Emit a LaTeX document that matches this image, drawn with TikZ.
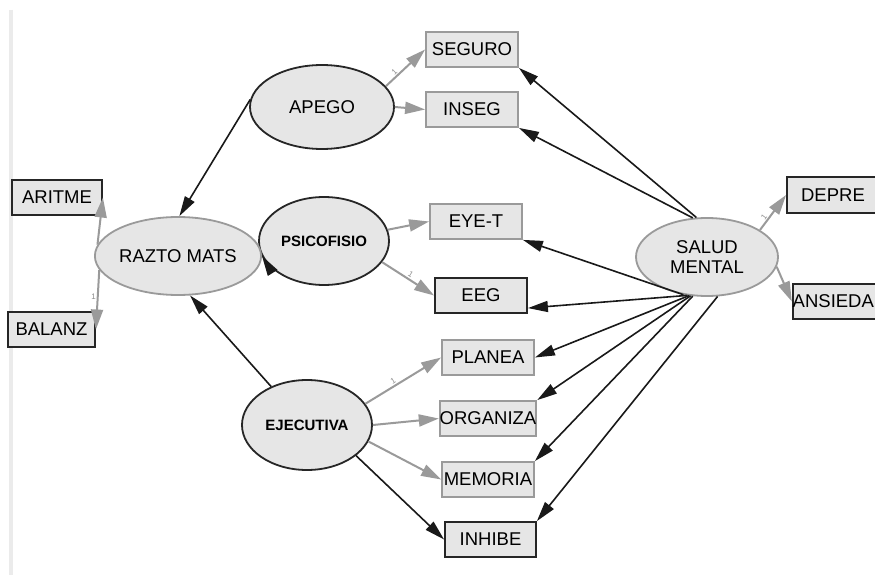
\documentclass[tikz,border=0pt]{standalone}
\usepackage{fontspec}
\setmainfont{Liberation Sans}
\usetikzlibrary{arrows.meta,shapes.geometric}
\definecolor{semgray}{HTML}{9A9A9A}
\definecolor{semfill}{HTML}{E6E6E6}
\begin{document}
\begin{tikzpicture}[x=1pt,y=-1pt,
  obsbox/.style={draw=semgray,line width=1.8pt,fill=semfill,minimum width=92pt,
    minimum height=35pt,inner sep=0pt,font=\fontsize{18.5}{20}\selectfont},
  obsdark/.style={obsbox,draw=black!85},
  latent/.style={ellipse,draw=black!85,line width=1.8pt,fill=semfill,inner sep=0pt,
    align=center,font=\fontsize{18.5}{20.5}\selectfont},
  latgray/.style={latent,draw=semgray},
  latsmall/.style={font=\fontsize{15}{16}\selectfont\bfseries},
  regr/.style={draw=black!90,line width=1.6pt,-{Triangle[length=20pt,width=11pt]}},
  load/.style={draw=semgray,line width=2pt,-{Triangle[length=20pt,width=12pt]}},
  fixone/.style={font=\fontsize{8}{8}\selectfont,text=black!45,inner sep=1pt}]
% sem path diagram, pixel coordinates
\useasboundingbox (0,0) rectangle (875,575);
\clip (0,0) rectangle (875,575);
\fill[white] (0,0) rectangle (875,575);
\draw[black!8,line width=4pt] (11,10) -- (11,575);
% latent variables
\node[latent,minimum width=144pt,minimum height=84pt] (apego) at (322,107) {APEGO};
\node[latent,latsmall,minimum width=130pt,minimum height=88pt] (psico) at (324,241) {PSICOFISIO};
\node[latent,latsmall,minimum width=130pt,minimum height=90pt] (ejec) at (307,425) {EJECUTIVA};
\node[latgray,minimum width=142pt,minimum height=78pt] (razto) at (178,256) {RAZTO MATS};
\node[latgray,minimum width=142pt,minimum height=78pt] (salud) at (707,257) {SALUD\\MENTAL};
% observed variables
\node[obsbox] (seguro) at (472,49.5) {SEGURO};
\node[obsbox] (inseg) at (472,109.5) {INSEG};
\node[obsbox] (eyet) at (476,221.5) {EYE-T};
\node[obsdark] (eeg) at (481,295.5) {EEG};
\node[obsbox] (planea) at (488,357.5) {PLANEA};
\node[obsbox] (organiza) at (488,418.5) {ORGANIZA};
\node[obsbox] (memoria) at (488,479.5) {MEMORIA};
\node[obsdark,minimum width=91pt] (inhibe) at (490.5,539.5) {INHIBE};
\node[obsdark,minimum width=90pt] (aritme) at (57,197.5) {ARITME};
\node[obsdark,minimum width=87pt] (balanz) at (51.5,329.5) {BALANZ};
\node[obsdark,minimum height=36pt] (depre) at (833,195) {DEPRE};
\node[obsdark] (ansied) at (840,301.5) {ANSIEDAD};
% loadings
\draw[load] (apego.18) -- node[fixone,pos=.3,sloped,above]{1} (seguro.west);
\draw[load] (apego.east) -- (inseg.west);
\draw[load] (psico.10) -- (eyet.west);
\draw[load] (psico.-20) -- node[fixone,pos=.5,sloped,above]{1} (eeg.west);
\draw[load] (ejec.20) -- node[fixone,pos=.4,sloped,above]{1} (planea.west);
\draw[load] (ejec.east) -- (organiza.west);
\draw[load] (ejec.-15) -- (memoria.west);
\draw[load] (razto.172) -- (aritme.east);
\draw[load] (razto.190) -- node[fixone,pos=.45,left]{1} (balanz.east);
\draw[load] (salud.27) -- node[fixone,pos=.3,sloped,above]{1} (depre.west);
\draw[load] (salud.-8) -- (ansied.west);
% structural paths
\draw[regr] (apego.174) -- (razto.88);
\draw[regr] (psico.200) -- (razto.east);
\draw[regr] (ejec.133) -- (razto.-73);
\draw[regr] (ejec.-32) -- (inhibe.west);
\draw[regr] (salud.105) -- (seguro.south east);
\draw[regr] (salud.110) -- (inseg.south east);
\draw[regr] (salud.238) -- (eyet.south east);
\draw[regr] (salud.243) -- (eeg.-15);
\draw[regr] (salud.245) -- (planea.east);
\draw[regr] (salud.247) -- (organiza.north east);
\draw[regr] (salud.250) -- (memoria.north east);
\draw[regr] (salud.285) -- (inhibe.north east);
\end{tikzpicture}
\end{document}
